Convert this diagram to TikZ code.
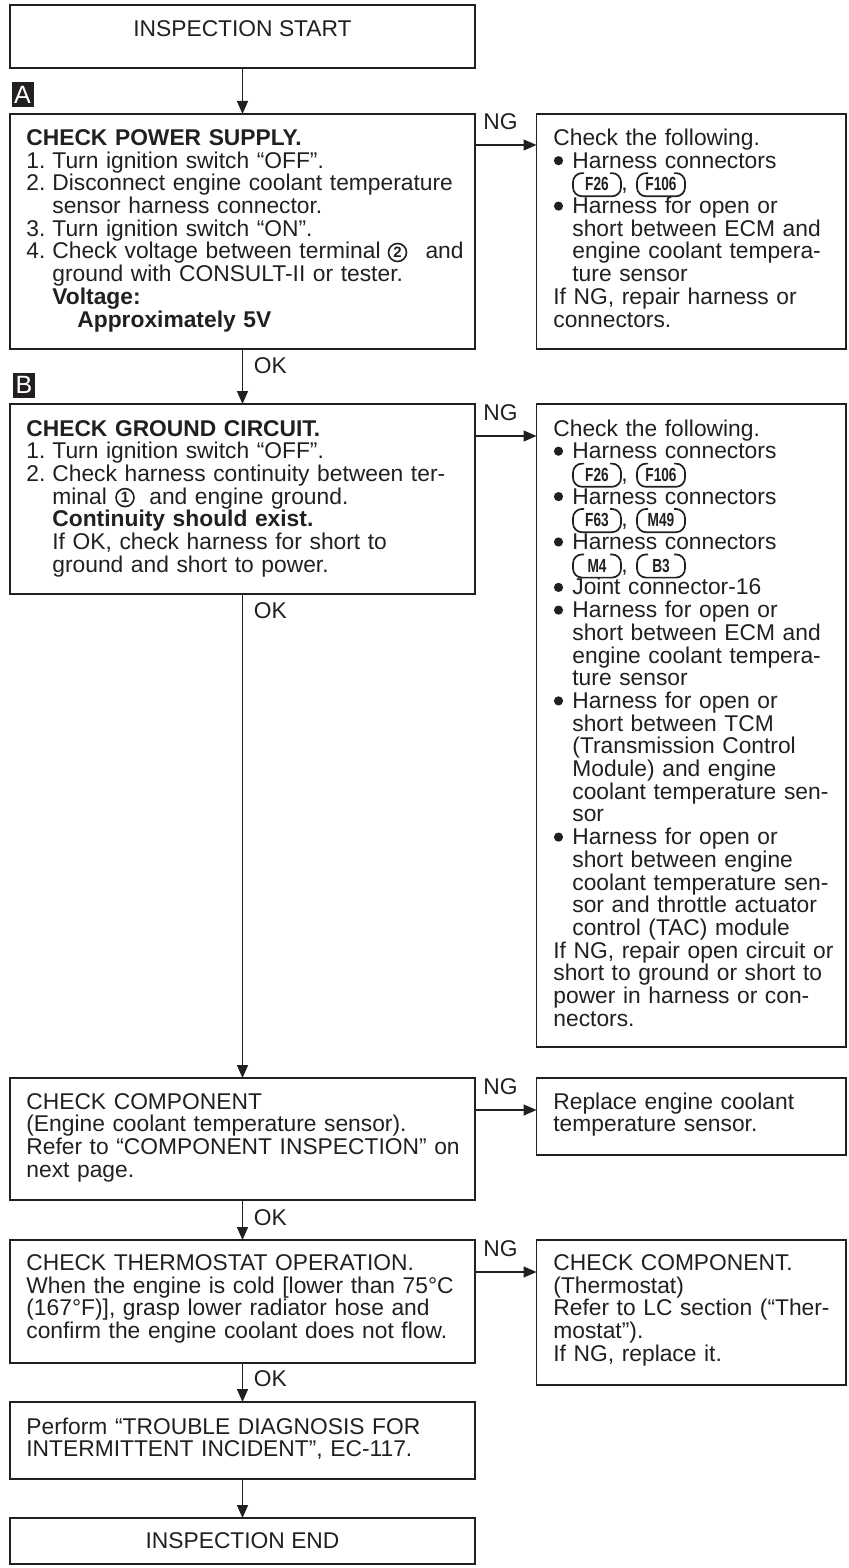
\documentclass[tikz,border=0pt]{standalone}
\usepackage{fontspec}
\setmainfont{Liberation Sans}
\newfontfamily\estrecha[FakeStretch=0.72]{Liberation Sans}
\usetikzlibrary{positioning,arrows.meta,calc}
\definecolor{tinta}{RGB}{35,31,32}

\newcommand{\textocaja}{\fontsize{11.4}{11.35}\selectfont\lineskiplimit=-\maxdimen}
\newcommand{\numero}[1]{\makebox[13pt][l]{#1}}
\newcommand{\sangria}{\hspace*{13pt}}
\newcommand{\sangb}{\hspace*{9.5pt}}
\newcommand{\coma}{\hspace*{34pt},}

\begin{document}
\begin{tikzpicture}[
  x=0.5pt, y=-0.5pt, color=tinta,
  caja/.style={draw, line width=0.9pt, anchor=north west, inner sep=0pt,
               outer sep=0pt, minimum width=232.5pt},
  cajader/.style={caja, minimum width=154.75pt},
  texto/.style={anchor=base west, align=left, text width=300pt,
                inner sep=0pt, font=\textocaja},
  etiq/.style={anchor=base west, inner sep=0pt, font=\textocaja},
  marca/.style={fill=tinta, text=white, font=\fontsize{12.5}{12.5}\selectfont,
                minimum width=11pt, minimum height=12.5pt, inner sep=0pt},
  conec/.style={anchor=base west, font=\estrecha\bfseries\fontsize{9.5}{9.5}\selectfont,
                text width=21pt, align=center, text height=6.6pt,
                text depth=0.4pt, inner xsep=1.5pt, inner ysep=2.3pt,
                outer sep=0pt},
  contorno/.style={line width=0.85pt, rounded corners=4.5pt},
  terminal/.style={circle, draw, line width=0.8pt, inner sep=0pt,
                   minimum size=9pt, font=\bfseries\fontsize{7.5}{7.5}\selectfont},
  flecha/.style={-{Triangle[length=6.5pt,width=5.5pt]}, line width=0.75pt},
]
\useasboundingbox (0,0) rectangle (848,1568);
% --- Inicio -----------------------------------------------------------------
\node[caja, minimum height=31.5pt] (inicio) at (10,5) {};
\node[etiq, anchor=base] (inicio-t) at ([shift={(0,32)}]inicio.north)
  {INSPECTION START};
% --- A: alimentacion --------------------------------------------------------
\node[marca] (marcaA) at (22.5,95) {A};
\node[caja, minimum height=117.5pt] (alim) at (10,114) {};
\node[texto] (alim-t) at ([shift={(16,31.5)}]alim.north west)
  {\textbf{CHECK POWER SUPPLY.}\\
   \numero{1.}Turn ignition switch “OFF”.\\
   \numero{2.}Disconnect engine coolant temperature\\
   \sangria sensor harness connector.\\
   \numero{3.}Turn ignition switch “ON”.\\
   \numero{4.}Check voltage between terminal\hspace*{22.5pt}and\\
   \sangria ground with CONSULT-II or tester.\\
   \sangria\textbf{Voltage:}\\
   \hspace*{25.5pt}\textbf{Approximately 5V}};
\node[terminal] (borne2) at ([shift={(371.5,{5*22.7-6.5})}]alim-t.base west) {2};
\node[cajader, minimum height=117.5pt] (rev1) at (536.5,114) {};
\node[texto] (rev1-t) at ([shift={(16.5,31.5)}]rev1.north west)
  {Check the following.\\
   \sangb Harness connectors\\
   \coma\\
   \sangb Harness for open or\\
   \sangb short between ECM and\\
   \sangb engine coolant tempera-\\
   \sangb ture sensor\\
   If NG, repair harness or\\
   connectors.};
\node[etiq] (ng1) at ([shift={(8,16)}]alim.north east) {NG};
\draw[flecha] (inicio) -- (alim);
\draw[flecha] ([yshift=-15.5pt]alim.north east) -- ([yshift=-15.5pt]rev1.north west);
% --- B: masa ------------------------------------------------------------------
\node[marca] (marcaB) at (24,385) {B};
\node[caja, minimum height=95pt] (masa) at (10,404) {};
\node[texto] (masa-t) at ([shift={(16,32)}]masa.north west)
  {\textbf{CHECK GROUND CIRCUIT.}\\
   \numero{1.}Turn ignition switch “OFF”.\\
   \numero{2.}Check harness continuity between ter-\\
   \sangria minal\hspace*{21.25pt}and engine ground.\\
   \sangria\textbf{Continuity should exist.}\\
   \sangria If OK, check harness for short to\\
   \sangria ground and short to power.};
\node[terminal] (borne1) at ([shift={(99,{3*22.7-6.5})}]masa-t.base west) {1};
\node[cajader, minimum height=321.5pt] (rev2) at (536.5,404) {};
\node[texto] (rev2-t) at ([shift={(16.5,32)}]rev2.north west)
  {Check the following.\\
   \sangb Harness connectors\\
   \coma\\
   \sangb Harness connectors\\
   \coma\\
   \sangb Harness connectors\\
   \coma\\
   \sangb Joint connector-16\\
   \sangb Harness for open or\\
   \sangb short between ECM and\\
   \sangb engine coolant tempera-\\
   \sangb ture sensor\\
   \sangb Harness for open or\\
   \sangb short between TCM\\
   \sangb (Transmission Control\\
   \sangb Module) and engine\\
   \sangb coolant temperature sen-\\
   \sangb sor\\
   \sangb Harness for open or\\
   \sangb short between engine\\
   \sangb coolant temperature sen-\\
   \sangb sor and throttle actuator\\
   \sangb control (TAC) module\\
   If NG, repair open circuit or\\
   short to ground or short to\\
   power in harness or con-\\
   nectors.};
\node[etiq] (ok1) at ([shift={(11,24)}]alim.south) {OK};
\node[etiq] (ng2) at ([shift={(8,16)}]masa.north east) {NG};
\draw[flecha] (alim) -- (masa);
\draw[flecha] ([yshift=-16pt]masa.north east) -- ([yshift=-16pt]rev2.north west);
% conectores y vinetas de las listas
\foreach \cj/\nom/\dx/\dy/\txt in {rev1-t/c11/20/45.4/F26, rev1-t/c12/84/45.4/F106,
    rev2-t/c21/20/45.4/F26, rev2-t/c22/84/45.4/F106,
    rev2-t/c23/20/90.8/F63, rev2-t/c24/84/90.8/M49,
    rev2-t/c25/20/136.2/M4, rev2-t/c26/84/136.2/B3} {
  \node[conec] (\nom) at ([shift={(\dx,\dy)}]\cj.base west) {\txt};
  \draw[contorno] ([xshift=5.5pt]\nom.north west) -- (\nom.north west)
    -- (\nom.south west) -- (\nom.south east) -- (\nom.north east)
    -- ([xshift=-5.5pt]\nom.north east);
}
\foreach \cj/\i in {rev1-t/1, rev1-t/3, rev2-t/1, rev2-t/3, rev2-t/5,
                    rev2-t/7, rev2-t/8, rev2-t/12, rev2-t/18}
  \fill ([shift={(5.5,{\i*22.7-7.5})}]\cj.base west) circle (2.3pt);
% --- Componente -----------------------------------------------------------------
\node[caja, minimum height=61pt] (comp) at (10,1078) {};
\node[texto] (comp-t) at ([shift={(16,31)}]comp.north west)
  {CHECK COMPONENT\\
   (Engine coolant temperature sensor).\\
   Refer to “COMPONENT INSPECTION” on\\
   next page.};
\node[cajader, minimum height=38.5pt] (rev3) at (536.5,1078) {};
\node[texto] (rev3-t) at ([shift={(16.5,31)}]rev3.north west)
  {Replace engine coolant\\
   temperature sensor.};
\node[etiq] (ok2) at ([shift={(11,24)}]masa.south) {OK};
\node[etiq] (ng3) at ([shift={(8,16)}]comp.north east) {NG};
\draw[flecha] (masa) -- (comp);
\draw[flecha] ([yshift=-16pt]comp.north east) -- ([yshift=-16pt]rev3.north west);
% --- Termostato -----------------------------------------------------------------
\node[caja, minimum height=61.5pt] (termo) at (10,1240) {};
\node[texto] (termo-t) at ([shift={(16,30.5)}]termo.north west)
  {CHECK THERMOSTAT OPERATION.\\
   When the engine is cold [lower than 75°C\\
   (167°F)], grasp lower radiator hose and\\
   confirm the engine coolant does not flow.};
\node[cajader, minimum height=72.5pt] (rev4) at (536.5,1240) {};
\node[texto] (rev4-t) at ([shift={(16.5,30.5)}]rev4.north west)
  {CHECK COMPONENT.\\
   (Thermostat)\\
   Refer to LC section (“Ther-\\
   mostat”).\\
   If NG, replace it.};
\node[etiq] (ok3) at ([shift={(11,25)}]comp.south) {OK};
\node[etiq] (ng4) at ([shift={(8,16)}]termo.north east) {NG};
\draw[flecha] (comp) -- (termo);
\draw[flecha] ([yshift=-16pt]termo.north east) -- ([yshift=-16pt]rev4.north west);
% --- Diagnostico y fin ------------------------------------------------------------
\node[caja, minimum height=38.5pt] (diag) at (10,1402) {};
\node[texto] (diag-t) at ([shift={(16,32)}]diag.north west)
  {Perform “TROUBLE DIAGNOSIS FOR\\
   INTERMITTENT INCIDENT”, EC-117.};
\node[caja, minimum height=23pt, font=\textocaja] (fin) at (10,1518)
  {INSPECTION END};
\node[etiq] (ok4) at ([shift={(11,23)}]termo.south) {OK};
\draw[flecha] (termo) -- (diag);
\draw[flecha] (diag) -- (fin);
\end{tikzpicture}
\end{document}
